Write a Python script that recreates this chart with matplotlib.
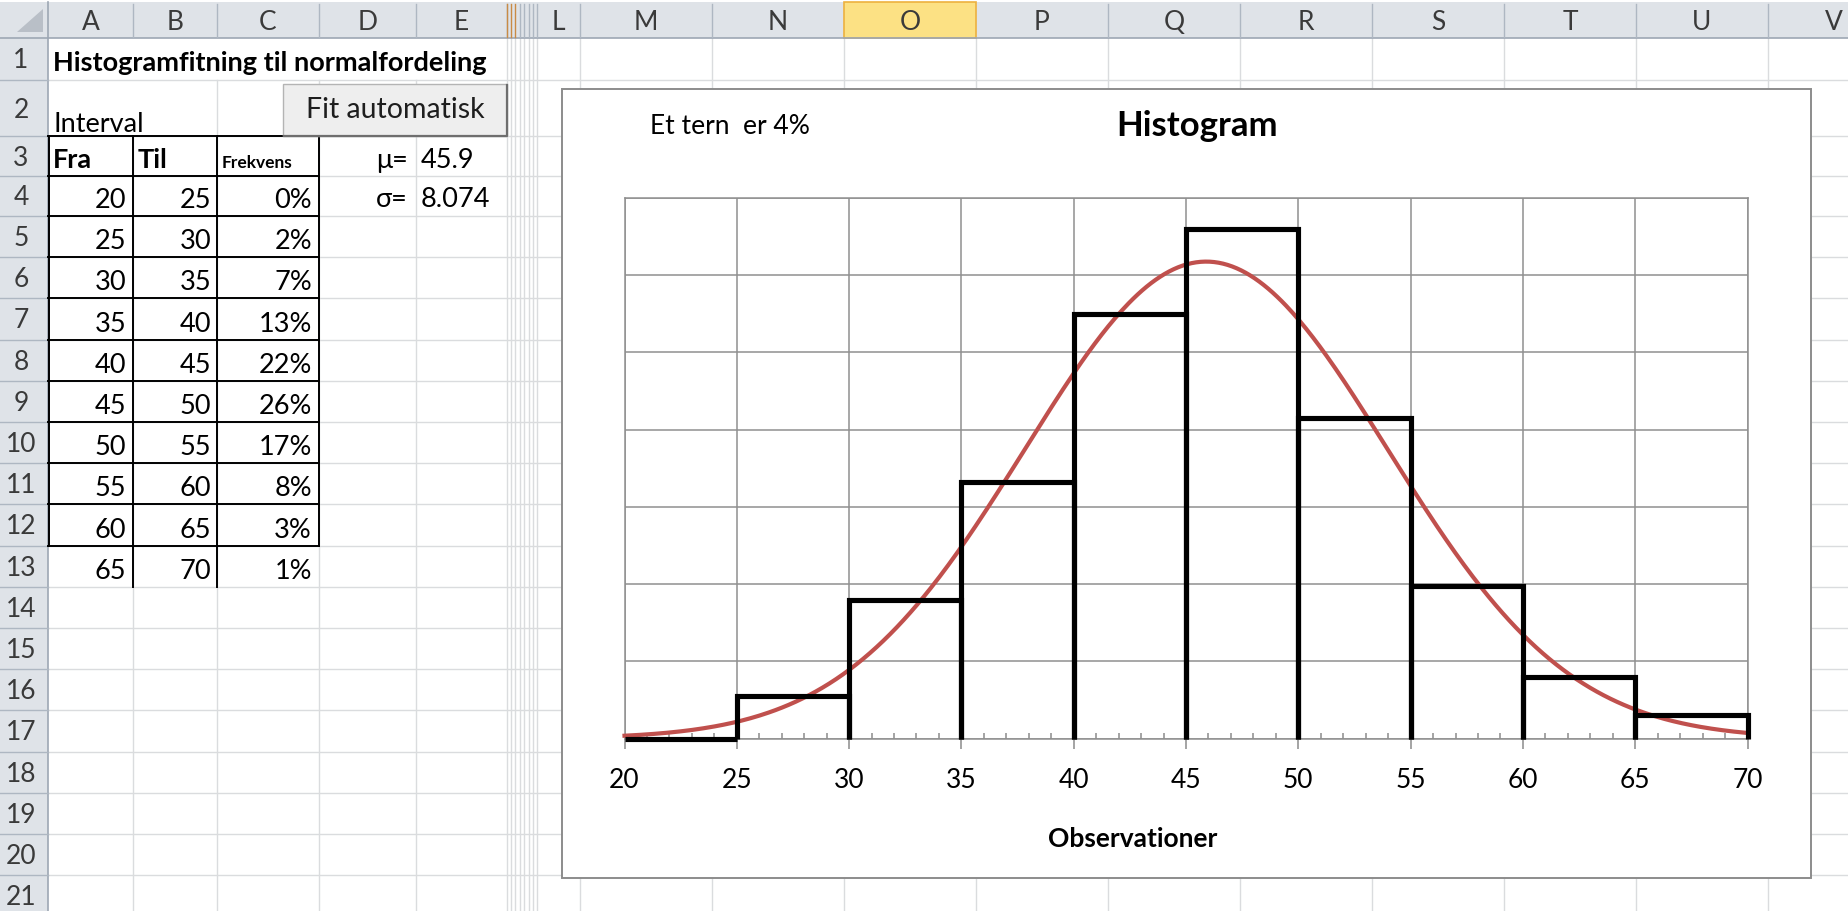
import numpy as np
import matplotlib.pyplot as plt
from matplotlib.patches import Rectangle, Polygon

plt.rcParams['font.family'] = ['Lato', 'DejaVu Sans']

# Frequency table: interval limits and share of observations (%)
fra = [20, 25, 30, 35, 40, 45, 50, 55, 60, 65]
til = [25, 30, 35, 40, 45, 50, 55, 60, 65, 70]
frekvens = [0.0, 2.2, 7.2, 13.3, 22.0, 26.4, 16.6, 7.9, 3.2, 1.2]

# Fitted normal distribution
mu = 45.9
sigma = 8.074

x_ticks = [20, 25, 30, 35, 40, 45, 50, 55, 60, 65, 70]
tern = 4  # percent per grid square

col_names = ['A', 'B', 'C', 'D', 'E', 'L', 'M', 'N', 'O', 'P', 'Q', 'R', 'S', 'T', 'U', 'V']

W, H = 1848, 912
fig = plt.figure(figsize=(W / 100, H / 100), dpi=100)
sheet = fig.add_axes([0, 0, 1, 1])
sheet.set_xlim(0, W)
sheet.set_ylim(H, 0)
sheet.axis('off')

# sheet geometry in pixels
col_left = [48, 133, 217, 319, 416, 537, 580, 712, 844, 976, 1108, 1240, 1372, 1504, 1636, 1768]
col_right = [133, 217, 319, 416, 507, 580, 712, 844, 976, 1108, 1240, 1372, 1504, 1636, 1768, 1900]
hidden_cols = [507, 511, 515, 520, 524, 529, 533, 537]
row_edges = [3, 39, 81, 137, 177, 217] + [217 + 41.2 * k for k in range(1, 18)]

grid_c = '#DADCDE'
hdr_c = '#DFE3E8'
hdr_line = '#AEB7C2'
txt_c = '#3A3A3A'

# cell gridlines
for y in row_edges[2:]:
    sheet.plot([48, W], [y, y], color=grid_c, lw=1.0, zorder=1)
for x in sorted(set(col_left + col_right + hidden_cols)):
    if x <= 48:
        continue
    y0 = 39
    if x in (133, 217, 319, 416):
        y0 = 81  # title overflows row 1
    if x == 133:
        y0 = 137  # "Interval" overflows into B
    sheet.plot([x, x], [y0, H], color=grid_c, lw=1.0, zorder=1)

# column and row headers
sheet.add_patch(Rectangle((0, 3), W, 36, fc=hdr_c, ec='none', zorder=2))
sheet.add_patch(Rectangle((0, 39), 48, H - 39, fc=hdr_c, ec='none', zorder=2))
sheet.add_patch(Rectangle((844, 3), 132, 36, fc='#FCE184', ec='#EDB13F', lw=1.2, zorder=3))
sheet.plot([0, W], [39, 39], color='#9DA7B4', lw=1.2, zorder=3)
sheet.plot([48, 48], [3, H], color='#9DA7B4', lw=1.2, zorder=3)
for x in col_right:
    if x != 976 and x != 844:
        sheet.plot([x, x], [5, 38], color=hdr_line, lw=1.0, zorder=3)
for x in hidden_cols:
    sheet.plot([x, x], [5, 38], color='#C98B45' if x < 518 else hdr_line, lw=1.0, zorder=3)
for y in row_edges[2:]:
    sheet.plot([0, 48], [y, y], color=hdr_line, lw=1.0, zorder=3)
sheet.add_patch(Polygon([(43, 10), (43, 33), (17, 33)], closed=True, fc='#B9BFC7', ec='none', zorder=3))

for name, l, r in zip(col_names, col_left, col_right):
    sheet.text((l + min(r, W + 80)) / 2, 22, name, ha='center', va='center',
               fontsize=19, color=txt_c, zorder=4)
for i in range(1, 22):
    yc = (row_edges[i] + min(row_edges[i + 1], H + 20)) / 2
    sheet.text(21, yc + 1, str(i), ha='center', va='center', fontsize=19, color=txt_c, zorder=4)

# cell contents
fs = 19.5
sheet.text(53, 71, 'Histogramfitning til normalfordeling', fontsize=fs, fontweight='bold',
           va='baseline', zorder=4)
sheet.text(53, 132, 'Interval', fontsize=fs, va='baseline', zorder=4)
sheet.text(53, 168, 'Fra', fontsize=fs, fontweight='bold', va='baseline', zorder=4)
sheet.text(138, 168, 'Til', fontsize=fs, fontweight='bold', va='baseline', zorder=4)
sheet.text(222, 168, 'Frekvens', fontsize=12.5, fontweight='bold', va='baseline', zorder=4)
sheet.text(408, 168, 'μ=', fontsize=fs, ha='right', va='baseline', zorder=4)
sheet.text(421, 168, f'{mu}', fontsize=fs, va='baseline', zorder=4)
sheet.text(408, 207, 'σ=', fontsize=fs, ha='right', va='baseline', zorder=4)
sheet.text(421, 207, f'{sigma}', fontsize=fs, va='baseline', zorder=4)

for i, (a, b, f) in enumerate(zip(fra, til, frekvens)):
    base = row_edges[5 + i] - 9
    sheet.text(126, base, str(a), fontsize=fs, ha='right', va='baseline', zorder=4)
    sheet.text(211, base, str(b), fontsize=fs, ha='right', va='baseline', zorder=4)
    sheet.text(312, base, f'{f:.0f}%', fontsize=fs, ha='right', va='baseline', zorder=4)

# table borders (rows 3-12 boxed, row 13 with inner verticals only)
top, bot12, bot13 = row_edges[3], row_edges[13], row_edges[14]
for y in row_edges[3:14]:
    sheet.plot([48, 319], [y, y], color='black', lw=1.4, zorder=3)
for x, yb in [(49, bot12), (133, bot13), (217, bot13), (319, bot12)]:
    sheet.plot([x, x], [top, yb], color='black', lw=1.4, zorder=3)

# "Fit automatisk" button
sheet.add_patch(Rectangle((283, 85), 224, 52, fc='#EEEEEE', ec='#B4B4B4', lw=1.0, zorder=5))
sheet.plot([507, 507, 284], [86, 137, 137], color='#6E6E6E', lw=1.6, zorder=6)
sheet.text(395, 118, 'Fit automatisk', fontsize=20.5, ha='center', va='baseline',
           color='#1E1E1E', zorder=6)

# chart object
sheet.add_patch(Rectangle((562, 90), 1249, 789, fc='white', ec='#8C8C8C', lw=1.4, zorder=7))
sheet.text(650, 127, 'Et tern  er 4%', fontsize=19, va='center', zorder=8)
sheet.text(1197, 126, 'Histogram', fontsize=25, fontweight='bold', ha='center', va='center', zorder=8)
sheet.text(1133, 839, 'Observationer', fontsize=19, fontweight='bold', ha='center',
           va='center', zorder=8)

px0, px1, py0, py1 = 624.5, 1747.5, 199, 739.5
ax = fig.add_axes([px0 / W, 1 - py1 / H, (px1 - px0) / W, (py1 - py0) / H])
ax.set_facecolor('none')
ax.set_xlim(20, 70)
ax.set_ylim(0, 28)
ax.set_xticks(x_ticks)
ax.set_xticks(range(20, 71), minor=True)
ax.set_yticks(range(0, 29, tern))
ax.set_yticklabels([])
ax.tick_params(axis='y', length=0)
ax.tick_params(axis='x', which='major', direction='out', length=7.5, width=1.1,
               color='#8C8C8C', labelsize=19, pad=13)
ax.tick_params(axis='x', which='minor', direction='in', length=4.5, width=1.1, color='#8C8C8C')
ax.grid(True, which='major', color='#8F8F8F', lw=1.1)
ax.set_axisbelow(True)
for s in ax.spines.values():
    s.set_color('#8F8F8F')
    s.set_linewidth(1.1)

# fitted normal curve scaled to interval width
xs = np.linspace(20, 70, 500)
ys = 100 * 5 * np.exp(-0.5 * ((xs - mu) / sigma) ** 2) / (sigma * np.sqrt(2 * np.pi))
ax.plot(xs, ys, color='#C0504D', lw=3, zorder=3, clip_on=False)

# histogram outline
for a, b, f in zip(fra, til, frekvens):
    ax.plot([a, a, b, b], [0, f, f, 0], color='black', lw=3.7, solid_joinstyle='miter',
            solid_capstyle='butt', zorder=4, clip_on=False)

fig.savefig('out.png', dpi=100)
